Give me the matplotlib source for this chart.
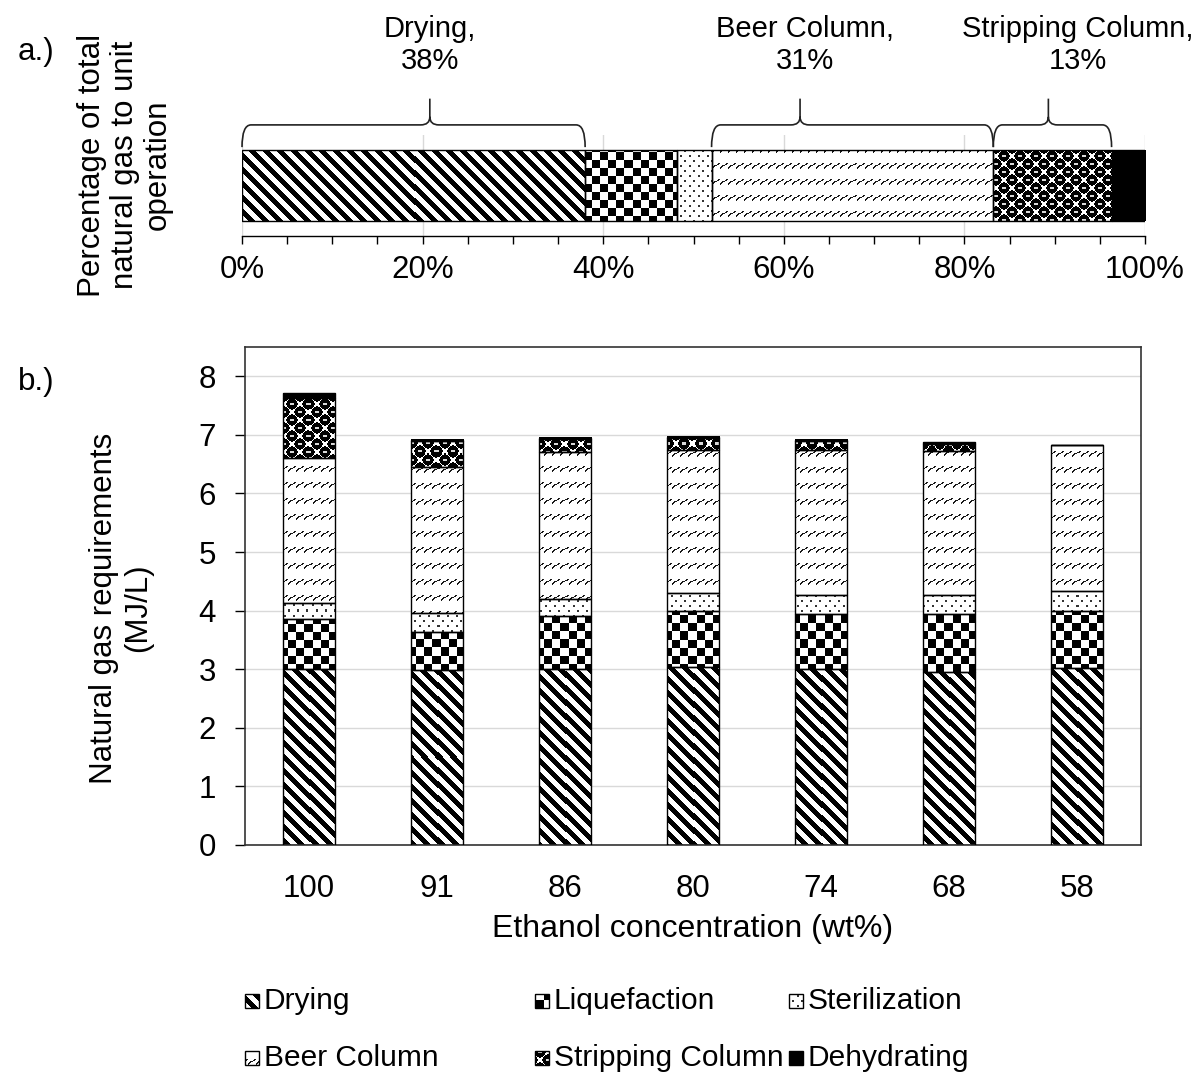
import numpy as np
import matplotlib
matplotlib.use('Agg')
import matplotlib.pyplot as plt
import matplotlib.transforms as mtransforms
from matplotlib.path import Path
from matplotlib.patches import PathPatch, Rectangle
from matplotlib.ticker import MultipleLocator

plt.rcParams['font.family'] = ['Liberation Sans', 'DejaVu Sans']

# ---- data ----
units = ['Drying', 'Liquefaction', 'Sterilization', 'Beer Column',
         'Stripping Column', 'Dehydrating']
share_pct = [38.0, 10.2, 3.8, 31.2, 13.1, 3.7]   # a.) share of natural gas

concentration = ['100', '91', '86', '80', '74', '68', '58']
drying = [3.00, 2.99, 3.00, 3.03, 3.00, 2.95, 3.02]
liquefaction = [0.85, 0.65, 0.91, 0.97, 0.95, 1.00, 0.98]
sterilization = [0.28, 0.32, 0.29, 0.30, 0.32, 0.32, 0.34]
beer_column = [2.48, 2.49, 2.51, 2.44, 2.47, 2.46, 2.49]
stripping_column = [1.02, 0.45, 0.22, 0.21, 0.16, 0.12, 0.0]
dehydrating = [0.08, 0.02, 0.02, 0.02, 0.02, 0.02, 0.0]
series = [drying, liquefaction, sterilization, beer_column,
          stripping_column, dehydrating]

# braces over the top bar: (unit index, tip position %, label position %)
braces = [(0, 20.8, 20.8), (3, 61.8, 62.3), (4, 89.3, 92.6)]

W, H = 1196, 1076
fig = plt.figure(figsize=(W / 100, H / 100), dpi=100)
FS = 22.5


def px_axes(left, right, top, bottom):
    return fig.add_axes([left / W, 1 - bottom / H, (right - left) / W, (bottom - top) / H])


BEER_TILE = [
    "........",
    "........",
    "........",
    "......##",
    ".....##.",
    "..###...",
    ".##.....",
    "##......",
    "#.......",
    "........",
    "........",
    "........",
    "........",
    "........",
    "........",
    "........",
]
beer_arr = np.array([[0.1 if c == '#' else 1.0 for c in row] for row in BEER_TILE])


def texture(name, X, Y):
    if name == 'Drying':
        return np.where((X - Y) % 14 < 7, 0.0, 1.0)
    if name == 'Liquefaction':
        return np.where((X // 8 + Y // 8) % 2 == 0, 0.0, 1.0)
    if name == 'Sterilization':
        dot = (((X % 9) < 2) & ((Y % 10) < 2)) | ((((X + 4) % 9) < 2) & (((Y + 5) % 10) < 2))
        return np.where(dot, 0.2, 1.0)
    if name == 'Beer Column':
        return beer_arr[Y % 16, X % 8]
    if name == 'Stripping Column':
        s = 8
        best = np.full(X.shape, 1e9)
        bx = np.zeros(X.shape)
        by = np.zeros(X.shape)
        for di in (-1, 0, 1):
            for dj in (-1, 0, 1):
                i = X // s + di
                j = Y // s + dj
                cx = i * s + s / 2 - 0.5
                cy = j * s + s / 2 - 0.5
                d = np.hypot(X - cx, Y - cy)
                ok = ((i + j) % 2 == 0) & (d < best)
                best = np.where(ok, d, best)
                bx = np.where(ok, cx, bx)
                by = np.where(ok, cy, by)
        black = best < 0.7 * s
        hl = black & (np.abs(Y - by) < 0.6) & (np.abs(X - bx) <= 1.5)
        out = np.where(black, 0.0, 1.0)
        out[hl] = 0.85
        return out
    return np.zeros(X.shape)


def paint(ax, patch, name):
    bb = patch.get_window_extent()
    x0, x1 = int(round(bb.x0)), int(round(bb.x1))
    top, bot = int(round(H - bb.y1)), int(round(H - bb.y0))
    if x1 - x0 < 1 or bot - top < 1:
        return
    X, Y = np.meshgrid(np.arange(x0, x1), np.arange(top, bot))
    ax.imshow(texture(name, X, Y), cmap='gray', vmin=0, vmax=1,
              interpolation='nearest', aspect='auto', zorder=2,
              extent=(patch.get_x(), patch.get_x() + patch.get_width(),
                      patch.get_y(), patch.get_y() + patch.get_height()))


# ---- a.) share of natural gas per unit operation ----
ax1 = px_axes(242, 1145, 135, 236)
ax1.set_xlim(0, 100)
ax1.set_ylim(-0.5, 0.5)
left = 0
starts = []
for name, v in zip(units, share_pct):
    bars = ax1.barh(0, v, left=left, height=0.7, facecolor='none',
                    edgecolor='black', linewidth=1, zorder=3)
    paint(ax1, bars[0], name)
    starts.append(left)
    left += v
ax1.set_xlim(0, 100)
ax1.set_ylim(-0.5, 0.5)
ax1.set_xticks(np.arange(0, 101, 20))
ax1.set_xticklabels([f'{int(t)}%' for t in np.arange(0, 101, 20)])
ax1.xaxis.set_minor_locator(MultipleLocator(5))
ax1.tick_params(axis='x', which='both', direction='out', length=6, width=1,
                labelsize=FS, pad=8)
ax1.set_yticks([])
ax1.xaxis.grid(True, color='#d9d9d9', linewidth=1)
ax1.set_axisbelow(True)
for sp in ['left', 'top', 'right']:
    ax1.spines[sp].set_visible(False)
ax1.spines['bottom'].set_linewidth(1)

# braces with labels
btrans = mtransforms.blended_transform_factory(ax1.transData, ax1.transAxes)
y_end, y_bar, y_tip = 0.88, 1.10, 1.36
r = 1.0
for idx, tip, lab_x in braces:
    a = starts[idx]
    b = starts[idx] + share_pct[idx]
    verts = [(a, y_end), (a, y_bar), (a + r, y_bar),
             (tip - r, y_bar), (tip, y_bar), (tip, y_bar + 0.08),
             (tip, y_tip),
             (tip, y_bar + 0.08), (tip, y_bar), (tip + r, y_bar),
             (b - r, y_bar), (b, y_bar), (b, y_end)]
    codes = [Path.MOVETO, Path.CURVE3, Path.CURVE3,
             Path.LINETO, Path.CURVE3, Path.CURVE3,
             Path.LINETO,
             Path.MOVETO, Path.CURVE3, Path.CURVE3,
             Path.LINETO, Path.CURVE3, Path.CURVE3]
    ax1.add_patch(PathPatch(Path(verts, codes), facecolor='none', edgecolor='#222222',
                            linewidth=1.2, transform=btrans, clip_on=False))
    ax1.text(lab_x, 1.89, f'{units[idx]},\n{share_pct[idx]:.0f}%', transform=btrans,
             ha='center', va='center', fontsize=21, linespacing=1.15)

# ---- b.) natural gas requirements by ethanol concentration ----
ax2 = px_axes(245, 1141, 347, 845)
x = np.arange(len(concentration))
ax2.set_xlim(-0.5, len(concentration) - 0.5)
ax2.set_ylim(0, 8.5)
bottom = np.zeros(len(concentration))
for name, vals in zip(units, series):
    bars = ax2.bar(x, vals, bottom=bottom, width=0.41, facecolor='none',
                   edgecolor='black', linewidth=1, zorder=3)
    for p in bars:
        paint(ax2, p, name)
    bottom += np.array(vals)
ax2.set_xlim(-0.5, len(concentration) - 0.5)
ax2.set_ylim(0, 8.5)
ax2.set_xticks(x)
ax2.set_xticklabels(concentration)
ax2.set_yticks(np.arange(0, 9, 1))
ax2.tick_params(axis='x', length=0, labelsize=FS, pad=21)
ax2.tick_params(axis='y', direction='out', length=7, width=1, labelsize=FS, pad=14)
ax2.yaxis.grid(True, color='#d9d9d9', linewidth=1)
ax2.set_axisbelow(True)
for sp in ax2.spines.values():
    sp.set_linewidth(1.2)
    sp.set_color('#333333')
ax2.set_xlabel('Ethanol concentration (wt%)', fontsize=23)
ax2.xaxis.set_label_coords(0.5, -0.138)

fig.text(125 / W, 1 - 165 / H, 'Percentage of total\nnatural gas to unit\noperation',
         rotation=90, ha='center', va='center', multialignment='center', fontsize=FS,
         linespacing=1.12)
fig.text(121 / W, 1 - 608 / H, 'Natural gas requirements\n(MJ/L)',
         rotation=90, ha='center', va='center', multialignment='center', fontsize=FS)
fig.text(18 / W, 1 - 52 / H, 'a.)', ha='left', va='center', fontsize=FS)
fig.text(18 / W, 1 - 382 / H, 'b.)', ha='left', va='center', fontsize=FS)

# ---- legend ----
leg_cols = [245, 535, 789]
leg_rows = [1001, 1058]
msize = 14
for k, name in enumerate(units):
    cx = leg_cols[k % 3]
    cy = leg_rows[k // 3]
    x0, y0 = cx, H - cy - msize / 2
    X, Y = np.meshgrid(np.arange(x0, x0 + msize), np.arange(cy - msize // 2, cy + msize // 2))
    fig.figimage(texture(name, X, Y), xo=x0, yo=y0, cmap='gray', vmin=0, vmax=1, origin='upper')
    fig.add_artist(Rectangle((x0, y0), msize, msize, facecolor='none', edgecolor='black',
                             linewidth=1, transform=mtransforms.IdentityTransform()))
    fig.text((x0 + msize + 5) / W, 1 - cy / H, name, ha='left', va='center', fontsize=21.5)

fig.savefig('out.png', dpi=100)
